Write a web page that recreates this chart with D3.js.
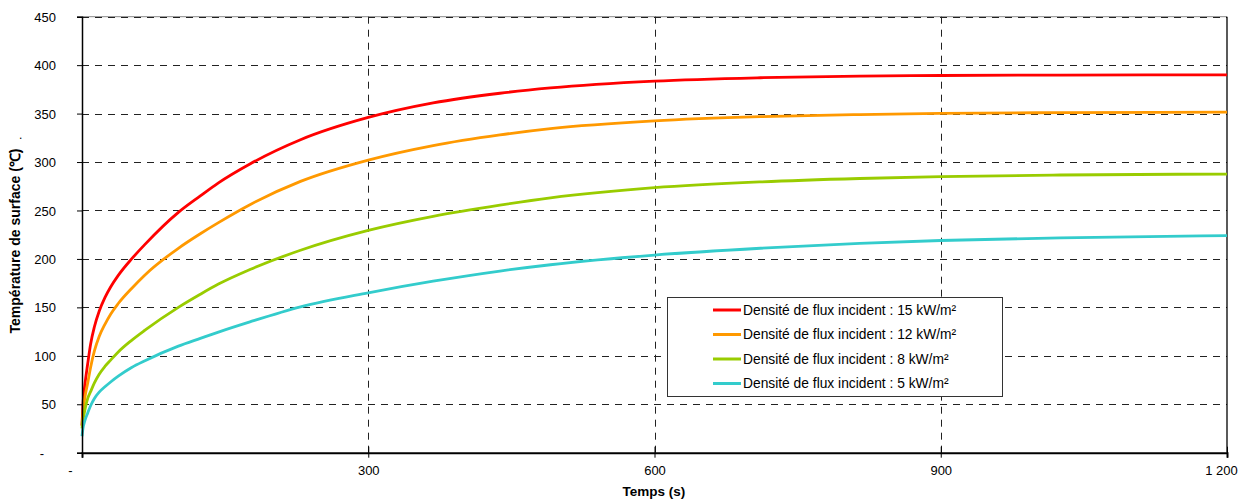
<!DOCTYPE html>
<html><head><meta charset="utf-8">
<script src="https://cdn.jsdelivr.net/npm/d3@7"></script>
<style>body{margin:0;background:#fff}svg{display:block}text{font-family:"Liberation Sans",Arial,sans-serif}</style>
</head><body>
<svg id="c" width="1240" height="499"></svg>
<script>
const times = [0, 1, 3, 6, 9, 13, 18, 24, 30, 38, 52, 66, 101, 124, 143, 176, 229, 300, 368, 438, 491, 600, 711, 815, 900, 1025, 1200];
const flux15 = [28, 50, 70, 92, 112, 130, 146, 160, 171, 183, 200, 215, 248, 265, 278.5, 298, 323, 346, 361, 371, 376.5, 383.5, 387, 388.7, 389.3, 389.8, 390];
const flux12 = [28, 42, 57, 72, 88, 105, 120, 132.5, 143, 154, 169.5, 183.5, 211, 226, 237.5, 256, 280, 302, 317, 328, 334.5, 342.5, 346.8, 349, 350.2, 351, 351.5];
const flux8  = [25, 33, 44, 56, 63, 72, 81, 89, 95.5, 104, 116, 126.5, 150, 163.5, 174, 189, 209, 229.5, 244, 255.5, 263, 273.5, 279.5, 283, 285, 286.6, 287.6];
const flux5  = [17, 25, 33, 41, 48.5, 56, 62.5, 68, 73, 79, 88, 95, 110, 118, 124.5, 135, 150.5, 165, 177, 187.5, 194, 204, 211, 216, 219, 221.8, 224];
const seriesNames = ["Densité de flux incident : 15 kW/m²","Densité de flux incident : 12 kW/m²","Densité de flux incident : 8 kW/m²","Densité de flux incident : 5 kW/m²"];
const seriesColors = ["#FF0000","#FF9900","#99CC00","#33CCCC"];
const xTicks = [0, 300, 600, 900, 1200];
const yTicks = [0, 50, 100, 150, 200, 250, 300, 350, 400, 450];
const xTitle = "Temps (s)";
const yTitle = "Température de surface (℃)";

const series = [flux15, flux12, flux8, flux5];
const svg = d3.select("#c");
const L = 82, R = 1227, T = 16.7, B = 452.7;
const x = d3.scaleLinear().domain([0,1200]).range([L,R]);
const y = d3.scaleLinear().domain([0,450]).range([B,T]);
const fmt = v => v === 0 ? "-" : d3.format(",")(v).replace(/,/g," ");

svg.append("line").attr("x1",L).attr("x2",R).attr("y1",T).attr("y2",T).attr("stroke","#888").attr("stroke-width",1);
svg.append("g").selectAll("line").data(yTicks.filter(v=>v>0)).join("line")
  .attr("x1",L).attr("x2",R).attr("y1",d=>Math.round(y(d))+0.5).attr("y2",d=>Math.round(y(d))+0.5)
  .attr("stroke","#222").attr("stroke-width",1).attr("stroke-dasharray","7,6");
svg.append("g").selectAll("line").data(xTicks.filter(v=>v>0 && v<1200)).join("line")
  .attr("x1",d=>Math.round(x(d))+0.5).attr("x2",d=>Math.round(x(d))+0.5).attr("y1",T).attr("y2",B)
  .attr("stroke","#222").attr("stroke-width",1).attr("stroke-dasharray","7,6");
svg.append("line").attr("x1",R).attr("x2",R).attr("y1",T).attr("y2",B).attr("stroke","#000").attr("stroke-width",1.3);

const line = d3.line().x((d,i)=>x(times[i])).y(d=>y(d)).curve(d3.curveMonotoneX);
series.forEach((s,i)=>{
  svg.append("path").attr("d",line(s)).attr("fill","none").attr("stroke",seriesColors[i]).attr("stroke-width",2.8);
});

const ya = svg.append("g").attr("transform",`translate(${L},0)`)
  .call(d3.axisLeft(y).tickValues(yTicks).tickFormat(fmt).tickSize(5).tickPadding(21));
ya.select(".domain").attr("stroke","#000").attr("stroke-width",1.5);
ya.selectAll(".tick text").style("font-size","13px").attr("fill","#000").style("font-family","'Liberation Sans', Arial, sans-serif").attr("dy","0.35em");
ya.selectAll(".tick").filter(d=>d===0).select("text").attr("dx",-12);

const xa = svg.append("g").attr("transform",`translate(0,${B})`)
  .call(d3.axisBottom(x).tickValues(xTicks).tickFormat(fmt).tickSize(5).tickPadding(8));
xa.select(".domain").attr("stroke","#000").attr("stroke-width",2);
xa.selectAll(".tick line").attr("y1",-6).attr("y2",5);
xa.selectAll(".tick text").style("font-size","13px").attr("fill","#000").style("font-family","'Liberation Sans', Arial, sans-serif");
xa.selectAll(".tick").filter(d=>d===0).select("text").attr("dx",-12);
xa.selectAll(".tick").filter(d=>d===1200).select("text").attr("dx",-6);

svg.append("text").attr("x",654).attr("y",496).attr("text-anchor","middle").style("font-size","13.5px").attr("font-weight","bold").text(xTitle);
svg.append("text").attr("transform","translate(20,241) rotate(-90)").attr("text-anchor","middle").style("font-size","14px").attr("font-weight","bold").text(yTitle);
svg.append("text").attr("x",19).attr("y",139).style("font-size","12px").text(".");

const lg = svg.append("g");
lg.append("rect").attr("x",667.5).attr("y",297.5).attr("width",335).attr("height",99).attr("fill","#fff").attr("stroke","#333").attr("stroke-width",1);
seriesNames.forEach((n,i)=>{
  const yy = 310 + i*24.5;
  lg.append("line").attr("x1",713).attr("x2",741).attr("y1",yy).attr("y2",yy).attr("stroke",seriesColors[i]).attr("stroke-width",3);
  lg.append("text").attr("x",743).attr("y",yy).attr("dy","0.35em").style("font-size","13.8px").text(n);
});
</script>
</body></html>
